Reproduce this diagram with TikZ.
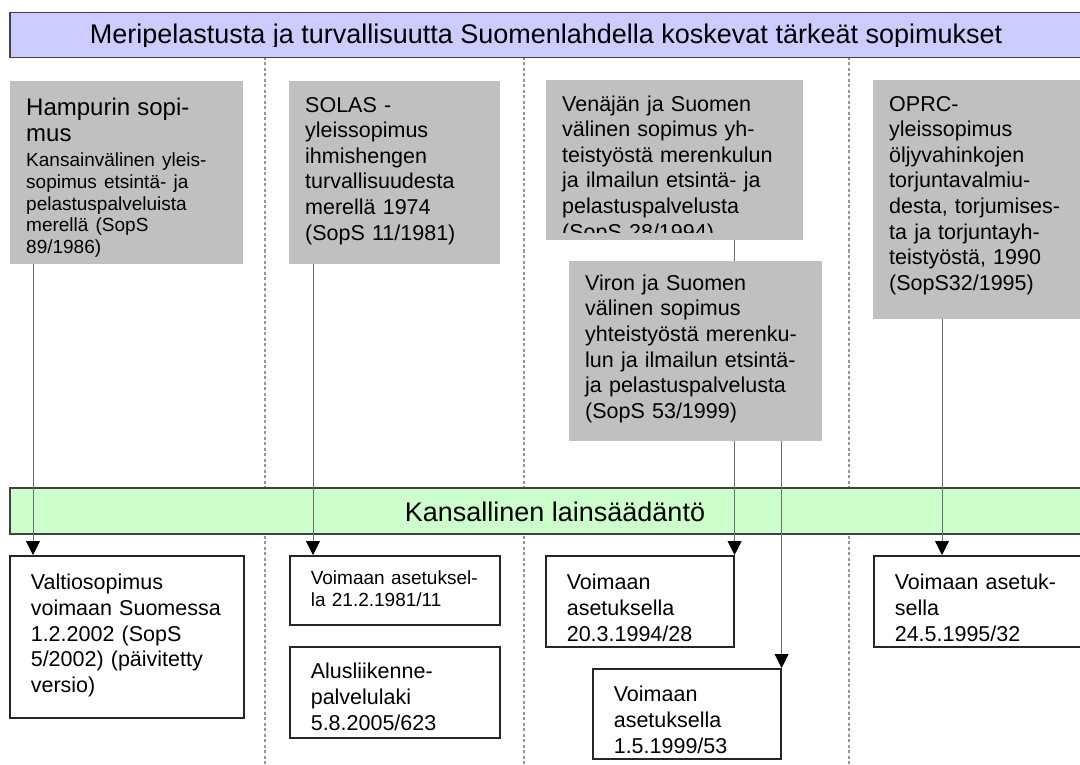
\documentclass[tikz,border=0pt]{standalone}
\usepackage{fontspec}
\setmainfont{Liberation Sans}
\usetikzlibrary{arrows.meta}
\definecolor{barblue}{RGB}{204,204,255}
\definecolor{bargreen}{RGB}{204,255,204}
\definecolor{boxgray}{RGB}{192,192,192}
\definecolor{sepgray}{RGB}{150,150,150}
\definecolor{linegray}{RGB}{110,110,110}
\newcommand\barfnt{\fontsize{27}{30}\selectfont}
\newcommand\bodyfnt{\fontsize{21.5}{25.6}\selectfont}
\newcommand\smallfnt{\fontsize{19}{21.7}\selectfont}
\newcommand\headfnt{\fontsize{24}{26}\selectfont}
\begin{document}
\begin{tikzpicture}[x=1pt,y=-1pt,
    bar/.style={draw=black!75, line width=1.5pt, anchor=north west, inner sep=0pt, minimum width=1081pt},
    sep/.style={draw=sepgray, line width=1.3pt, dash pattern=on 3pt off 2.5pt},
    graybox/.style={fill=boxgray, anchor=north west, inner xsep=16pt, inner ysep=0pt, align=left, text height=31pt, font=\bodyfnt},
    whitebox/.style={draw=black!85, line width=1.6pt, fill=white, anchor=north west, inner xsep=21pt, inner ysep=0pt, align=left, text height=34pt, font=\bodyfnt},
    link/.style={draw=linegray, line width=0.8pt, -{Triangle[width=14pt,length=14pt,color=black]}}]
    \useasboundingbox (0,0) rectangle (1080,765);
    % column separators
    \foreach \x in {265,524,849}
        \draw[sep] (\x,57) -- (\x,770);
    % bars
    \node[bar, fill=barblue, minimum height=45pt] (ttl) at (9,12) {};
    \begin{scope}
        \clip (ttl.north west) rectangle ([yshift=12pt]ttl.south east);
        \node[font=\barfnt, anchor=base] at (546,44) {Meripelastusta ja turvallisuutta Suomenlahdella koskevat tärkeät sopimukset};
    \end{scope}
    \node[bar, fill=bargreen, minimum height=46pt] (kans) at (9,487) {};
    \node[font=\barfnt, anchor=base] at (555,521) {Kansallinen lainsäädäntö};
    % agreements
    \node[graybox, minimum width=233pt, text width=201pt, text height=34pt, text depth=149pt] (hamb) at (10,81)
        {{\headfnt Hampurin sopi-\\mus\par}\vspace{4pt}{\smallfnt Kansainvälinen yleis-\\sopimus etsintä- ja\\pelastuspalveluista\\merellä (SopS\\89/1986)\par}};
    \node[graybox, minimum width=211pt, text width=179pt, text depth=152pt] (solas) at (289,81)
        {SOLAS -\\yleissopimus\\ihmishengen\\turvallisuudesta\\merellä 1974\\(SopS 11/1981)};
    \node[graybox, minimum width=257pt, minimum height=160pt] (ven) at (546,80) {};
    \begin{scope}
        \clip (ven.north west) rectangle ([yshift=8pt]ven.south east);
        \node[graybox, fill=none, text width=225pt] at (ven.north west)
            {Venäjän ja Suomen\\välinen sopimus yh-\\teistyöstä merenkulun\\ja ilmailun etsintä- ja\\pelastuspalvelusta\\(SopS 28/1994)};
    \end{scope}
    \node[graybox, minimum width=217pt, text width=185pt, text depth=208pt] (oprc) at (873,80)
        {OPRC-\\yleissopimus\\öljyvahinkojen\\torjuntavalmiu-\\desta, torjumises-\\ta ja torjuntayh-\\teistyöstä, 1990\\(SopS32/1995)};
    % national acts
    \node[whitebox, minimum width=234pt, text width=192pt, text depth=128pt] (valt) at (9,555)
        {Valtiosopimus\\voimaan Suomessa\\1.2.2002 (SopS\\5/2002) (päivitetty\\versio)};
    \node[whitebox, font=\smallfnt, minimum width=210pt, text width=168pt, text height=29pt, text depth=40pt] (vp81) at (289,555)
        {Voimaan asetuksel-\\la 21.2.1981/11};
    \node[whitebox, minimum width=210pt, text width=168pt, text height=32pt, text depth=59pt] (alus) at (289,646)
        {Alusliikenne-\\palvelulaki\\5.8.2005/623};
    \node[whitebox, minimum width=188pt, text width=146pt, text depth=57pt] (vp94) at (545,555)
        {Voimaan\\asetuksella\\20.3.1994/28};
    \node[whitebox, minimum width=188pt, text width=146pt, text height=33pt, text depth=57pt] (vp99) at (592,668)
        {Voimaan\\asetuksella\\1.5.1999/53};
    \node[whitebox, minimum width=220pt, text width=178pt, text depth=57pt] (vp95) at (873,555)
        {Voimaan asetuk-\\sella\\24.5.1995/32};
    % links
    \draw[link] ([xshift=24pt]valt.north west |- hamb.south) -- ([xshift=24pt]valt.north west);
    \draw[link] ([xshift=24pt]vp81.north west |- solas.south) -- ([xshift=24pt]vp81.north west);
    \draw[link] (vp94.north east |- ven.south) -- (vp94.north east);
    \draw[link] ([xshift=69pt]vp95.north west |- oprc.south) -- ([xshift=69pt]vp95.north west);
    \node[graybox, minimum width=253pt, text width=221pt, text height=29pt, text depth=151pt] (vir) at (569,261)
        {Viron ja Suomen\\välinen sopimus\\yhteistyöstä merenku-\\lun ja ilmailun etsintä-\\ja pelastuspalvelusta\\(SopS 53/1999)};
    \draw[link] (vp99.north east |- vir.south) -- (vp99.north east);
\end{tikzpicture}
\end{document}
